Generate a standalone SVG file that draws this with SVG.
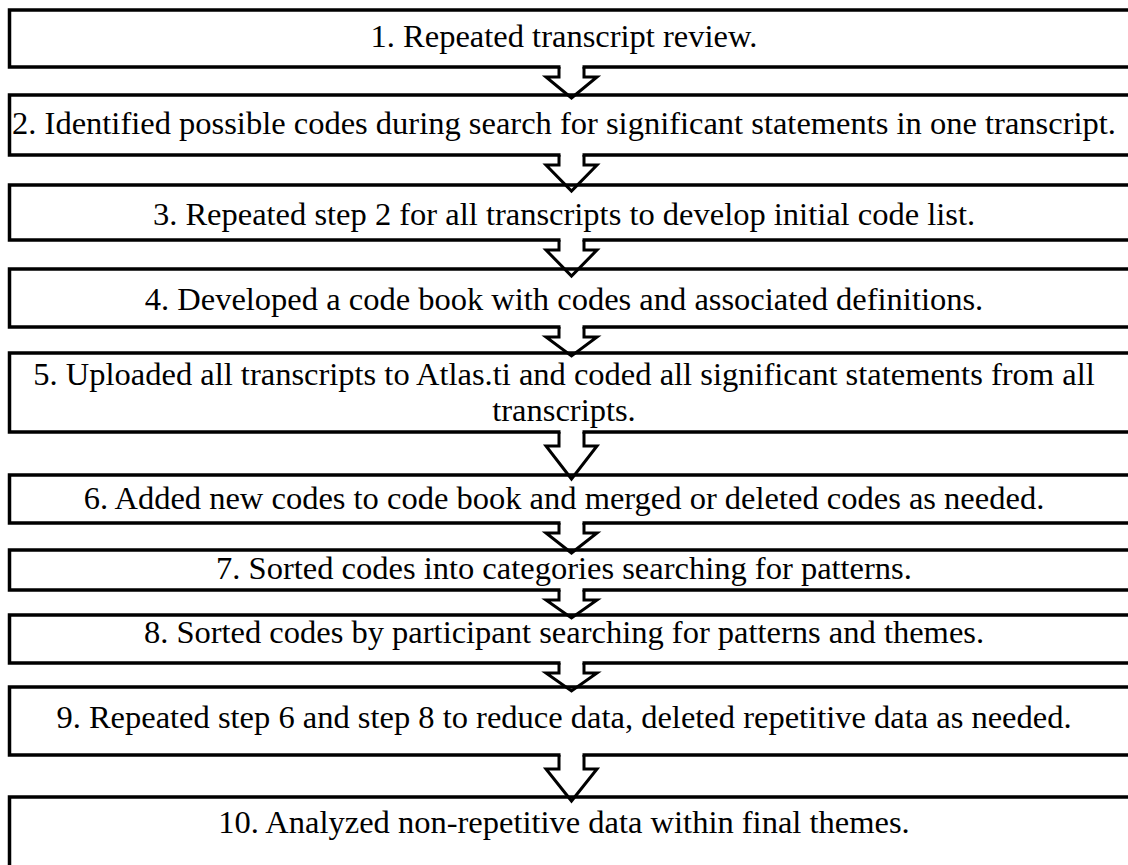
<svg xmlns="http://www.w3.org/2000/svg" width="1128" height="865" viewBox="0 0 1128 865">
<style>
.box{fill:#fff;stroke:#000;stroke-width:3.5}
text{font-family:'Liberation Serif','Times New Roman','DejaVu Serif',serif;font-size:32.5px;fill:#000;text-anchor:middle}
.arr{fill:none;stroke:#000;stroke-width:3;stroke-linejoin:miter}
.gap{fill:#fff;stroke:none}
</style>
<rect width="1128" height="865" fill="#fff"/>
<g id="node1"><rect class="box" x="9.5" y="10" width="1140" height="57"/><text x="564" y="47">1. Repeated transcript review.</text></g>
<g id="node2"><rect class="box" x="9.5" y="95" width="1140" height="60"/><text x="564" y="134">2. Identified possible codes during search for significant statements in one transcript.</text></g>
<g id="node3"><rect class="box" x="9.5" y="185" width="1140" height="55"/><text x="564" y="225">3. Repeated step 2 for all transcripts to develop initial code list.</text></g>
<g id="node4"><rect class="box" x="9.5" y="269" width="1140" height="58"/><text x="564" y="310">4. Developed a code book with codes and associated definitions.</text></g>
<g id="node5"><rect class="box" x="9.5" y="353" width="1140" height="79"/><text x="564" y="385">5. Uploaded all transcripts to Atlas.ti and coded all significant statements from all</text><text x="564" y="421">transcripts.</text></g>
<g id="node6"><rect class="box" x="9.5" y="475" width="1140" height="48"/><text x="564" y="509">6. Added new codes to code book and merged or deleted codes as needed.</text></g>
<g id="node7"><rect class="box" x="9.5" y="550" width="1140" height="40"/><text x="564" y="579">7. Sorted codes into categories searching for patterns.</text></g>
<g id="node8"><rect class="box" x="9.5" y="615" width="1140" height="48"/><text x="564" y="643">8. Sorted codes by participant searching for patterns and themes.</text></g>
<g id="node9"><rect class="box" x="9.5" y="687" width="1140" height="68"/><text x="564" y="728">9. Repeated step 6 and step 8 to reduce data, deleted repetitive data as needed.</text></g>
<g id="node10"><rect class="box" x="9.5" y="797" width="1140" height="100"/><text x="564" y="833">10. Analyzed non-repetitive data within final themes.</text></g>
<g id="connectors">
<rect class="gap" x="560.5" y="64" width="22" height="6"/><path class="arr" d="M559,67 V77 H546 L571.5,98 L597,77 H584 V67"/>
<rect class="gap" x="560.5" y="152" width="22" height="6"/><path class="arr" d="M559,155 V165 H546 L571.5,191 L597,165 H584 V155"/>
<rect class="gap" x="560.5" y="237" width="22" height="6"/><path class="arr" d="M559,240 V250 H546 L571.5,276 L597,250 H584 V240"/>
<rect class="gap" x="560.5" y="324" width="22" height="6"/><path class="arr" d="M559,327 V337 H546 L571.5,356 L597,337 H584 V327"/>
<rect class="gap" x="560.5" y="429" width="22" height="6"/><path class="arr" d="M559,432 V446 H546 L571.5,479 L597,446 H584 V432"/>
<rect class="gap" x="560.5" y="520" width="22" height="6"/><path class="arr" d="M559,523 V533 H546 L571.5,553 L597,533 H584 V523"/>
<rect class="gap" x="560.5" y="587" width="22" height="6"/><path class="arr" d="M559,590 V600 H546 L571.5,618 L597,600 H584 V590"/>
<rect class="gap" x="560.5" y="660" width="22" height="6"/><path class="arr" d="M559,663 V673 H546 L571.5,691 L597,673 H584 V663"/>
<rect class="gap" x="560.5" y="752" width="22" height="6"/><path class="arr" d="M559,755 V769 H546 L571.5,801 L597,769 H584 V755"/>
</g>
</svg>
